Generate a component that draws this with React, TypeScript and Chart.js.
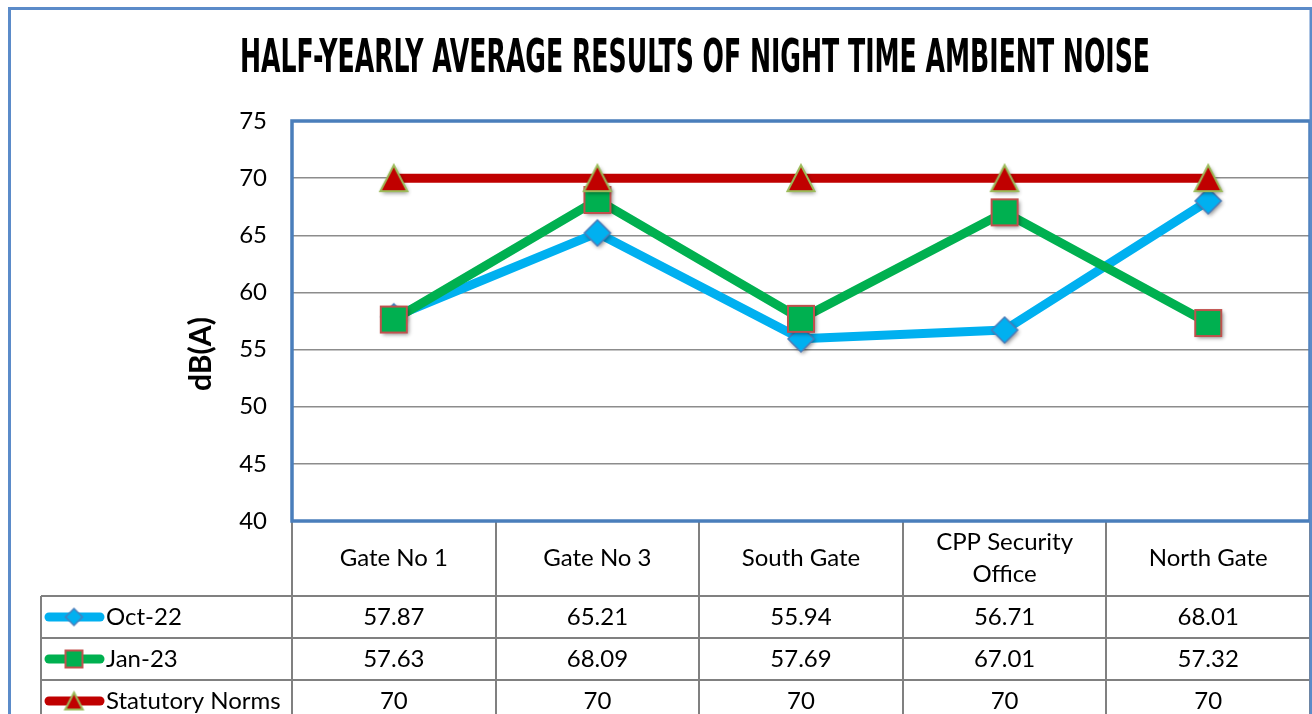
import React, { useEffect, useRef } from "react";
import { Chart, registerables } from "chart.js";

Chart.register(...registerables);

const TITLE = "HALF-YEARLY AVERAGE RESULTS OF NIGHT TIME AMBIENT NOISE";
const Y_TITLE = "dB(A)";
const categories = ["Gate No 1", "Gate No 3", "South Gate", "CPP Security Office", "North Gate"];
const categoryLines = [["Gate No 1"], ["Gate No 3"], ["South Gate"], ["CPP Security", "Office"], ["North Gate"]];
const seriesNames = ["Oct-22", "Jan-23", "Statutory Norms"];
const oct22 = [57.87, 65.21, 55.94, 56.71, 68.01];
const jan23 = [57.63, 68.09, 57.69, 67.01, 57.32];
const norms = [70, 70, 70, 70, 70];
const Y_MIN = 40;
const Y_MAX = 75;
const Y_STEP = 5;

const FONT = "Lato, 'Noto Sans', sans-serif";

type Kind = "diamond" | "square" | "triangle";

function makeMarker(kind: Kind, s: number, shadow: boolean): HTMLCanvasElement {
  const pad = 6;
  const size = Math.ceil(28 * s) + pad * 2;
  const c = document.createElement("canvas");
  c.width = size;
  c.height = size;
  const ctx = c.getContext("2d")!;
  const cx = size / 2;
  const cy = size / 2;
  if (shadow) {
    ctx.shadowColor = "rgba(0,0,0,0.45)";
    ctx.shadowBlur = 4;
    ctx.shadowOffsetX = 1.5;
    ctx.shadowOffsetY = 2;
  }
  ctx.beginPath();
  if (kind === "diamond") {
    const r = 13 * s;
    ctx.moveTo(cx, cy - r);
    ctx.lineTo(cx + r, cy);
    ctx.lineTo(cx, cy + r);
    ctx.lineTo(cx - r, cy);
    ctx.closePath();
    ctx.fillStyle = "#00B0F0";
    ctx.fill();
    ctx.shadowColor = "transparent";
    ctx.lineWidth = 1.5;
    ctx.strokeStyle = "#4A7EBB";
    ctx.stroke();
  } else if (kind === "square") {
    const h = 13 * s;
    ctx.rect(cx - h, cy - h, 2 * h, 2 * h);
    ctx.fillStyle = "#00B050";
    ctx.fill();
    ctx.shadowColor = "transparent";
    ctx.lineWidth = 2;
    ctx.strokeStyle = "#C0504D";
    ctx.stroke();
  } else {
    const w = 13.5 * s;
    const h = 13 * s;
    ctx.moveTo(cx, cy - h);
    ctx.lineTo(cx + w, cy + h);
    ctx.lineTo(cx - w, cy + h);
    ctx.closePath();
    ctx.fillStyle = "#C00000";
    ctx.fill();
    ctx.shadowColor = "transparent";
    ctx.lineWidth = 2;
    ctx.lineJoin = "miter";
    ctx.strokeStyle = "#9BBB59";
    ctx.stroke();
  }
  return c;
}

export default function App() {
  const ref = useRef<HTMLCanvasElement | null>(null);

  useEffect(() => {
    const canvas = ref.current;
    if (!canvas) return;

    const kinds: Kind[] = ["diamond", "square", "triangle"];
    const colors = ["#00B0F0", "#00B050", "#C00000"];
    const bigMarkers = kinds.map((k) => makeMarker(k, 1, true));
    const smallMarkers = kinds.map((k) => makeMarker(k, 0.65, false));
    const seriesData = [oct22, jan23, norms];

    const decor = {
      id: "decor",
      afterDraw(chart: any) {
        const ctx = chart.ctx as CanvasRenderingContext2D;
        const area = chart.chartArea;
        const xs = chart.scales.x;
        const H = chart.height;
        ctx.save();

        // Title
        ctx.fillStyle = "#000";
        ctx.font = "bold 47px 'DejaVu Sans Condensed', 'DejaVu Sans', sans-serif";
        ctx.textBaseline = "alphabetic";
        ctx.textAlign = "left";
        const tw = ctx.measureText(TITLE).width;
        const targetW = 910;
        ctx.save();
        ctx.translate(240, 72);
        ctx.scale(targetW / tw, 1);
        ctx.fillText(TITLE, 0, 0);
        ctx.restore();

        // Y title
        ctx.save();
        ctx.translate(201, 354);
        ctx.rotate(-Math.PI / 2);
        ctx.font = `bold 30px ${FONT}`;
        ctx.textAlign = "center";
        ctx.textBaseline = "middle";
        ctx.fillText(Y_TITLE, 0, 0);
        ctx.restore();

        // Data table
        const n = categories.length;
        const colW = (area.right - area.left) / n;
        const headerBottom = 596;
        const rowH = 42;
        const legendLeft = 41;
        ctx.strokeStyle = "#808080";
        ctx.lineWidth = 2;
        ctx.beginPath();
        for (let i = 0; i <= n; i++) {
          const x = i < n ? xs.getPixelForValue(i) - colW / 2 : xs.getPixelForValue(n - 1) + colW / 2;
          ctx.moveTo(Math.round(x), area.bottom);
          ctx.lineTo(Math.round(x), H + 5);
        }
        for (let r = 0; r < 3; r++) {
          const y = headerBottom + r * rowH;
          ctx.moveTo(legendLeft, y);
          ctx.lineTo(area.right, y);
        }
        ctx.moveTo(legendLeft, headerBottom);
        ctx.lineTo(legendLeft, H + 5);
        ctx.stroke();

        ctx.fillStyle = "#000";
        ctx.font = `24px ${FONT}`;
        ctx.textAlign = "center";
        ctx.textBaseline = "middle";
        const headerMid = (area.bottom + headerBottom) / 2;
        categoryLines.forEach((lines, i) => {
          const x = xs.getPixelForValue(i);
          const lh = 32;
          lines.forEach((ln, j) => {
            const y = headerMid + (j - (lines.length - 1) / 2) * lh;
            ctx.fillText(ln, x, y);
          });
        });

        seriesData.forEach((vals, r) => {
          const yc = headerBottom + r * rowH + rowH / 2;
          ctx.strokeStyle = colors[r];
          ctx.lineWidth = 9;
          ctx.lineCap = "round";
          ctx.beginPath();
          ctx.moveTo(49, yc);
          ctx.lineTo(100, yc);
          ctx.stroke();
          const m = smallMarkers[r];
          ctx.drawImage(m, 74 - m.width / 2, yc - m.height / 2);
          ctx.fillStyle = "#000";
          ctx.textAlign = "left";
          ctx.fillText(seriesNames[r], 106, yc);
          ctx.textAlign = "center";
          vals.forEach((v, i) => {
            ctx.fillText(String(v), xs.getPixelForValue(i), yc);
          });
        });

        // Plot border
        ctx.strokeStyle = "#4A7EBB";
        ctx.lineWidth = 3.5;
        ctx.strokeRect(area.left, area.top, area.right - area.left, area.bottom - area.top);

        // Outer border
        ctx.strokeStyle = "#5B8BC9";
        ctx.lineWidth = 3;
        ctx.strokeRect(9.5, 8.5, 1301.5, 760);

        ctx.restore();
      },
    };

    const chart = new Chart(canvas, {
      type: "line",
      data: {
        labels: categories,
        datasets: [
          {
            label: seriesNames[0],
            data: oct22,
            borderColor: colors[0],
            backgroundColor: colors[0],
            borderWidth: 9,
            pointStyle: bigMarkers[0] as any,
            pointRadius: 13,
            order: 3,
            tension: 0,
            borderJoinStyle: "round",
            borderCapStyle: "round",
          },
          {
            label: seriesNames[1],
            data: jan23,
            borderColor: colors[1],
            backgroundColor: colors[1],
            borderWidth: 9,
            pointStyle: bigMarkers[1] as any,
            pointRadius: 13,
            order: 2,
            tension: 0,
            borderJoinStyle: "round",
            borderCapStyle: "round",
          },
          {
            label: seriesNames[2],
            data: norms,
            borderColor: colors[2],
            backgroundColor: colors[2],
            borderWidth: 9,
            pointStyle: bigMarkers[2] as any,
            pointRadius: 13,
            order: 1,
            tension: 0,
            borderJoinStyle: "round",
            borderCapStyle: "round",
          },
        ],
      },
      options: {
        responsive: false,
        maintainAspectRatio: false,
        animation: false,
        devicePixelRatio: 1,
        layout: { autoPadding: false, padding: { left: 10, top: 121, right: 2, bottom: 193 } },
        plugins: {
          legend: { display: false },
          title: { display: false },
          tooltip: { enabled: false },
        },
        scales: {
          x: {
            type: "category",
            display: false,
            offset: true,
            grid: { display: false },
          },
          y: {
            min: Y_MIN,
            max: Y_MAX,
            afterFit: (scale: any) => {
              scale.width = 282;
            },
            ticks: {
              stepSize: Y_STEP,
              padding: 25,
              color: "#000",
              font: { family: FONT, size: 24 },
            },
            grid: {
              color: "#8C8C8C",
              lineWidth: 1.5,
              drawTicks: false,
            },
            border: { display: false },
            title: { display: false },
          },
        },
      },
      plugins: [decor],
    });

    return () => chart.destroy();
  }, []);

  return (
    <div style={{ position: "fixed", left: 0, top: 0, width: 1312, height: 714, background: "#fff" }}>
      <canvas ref={ref} width={1312} height={714} style={{ display: "block" }} />
    </div>
  );
}
